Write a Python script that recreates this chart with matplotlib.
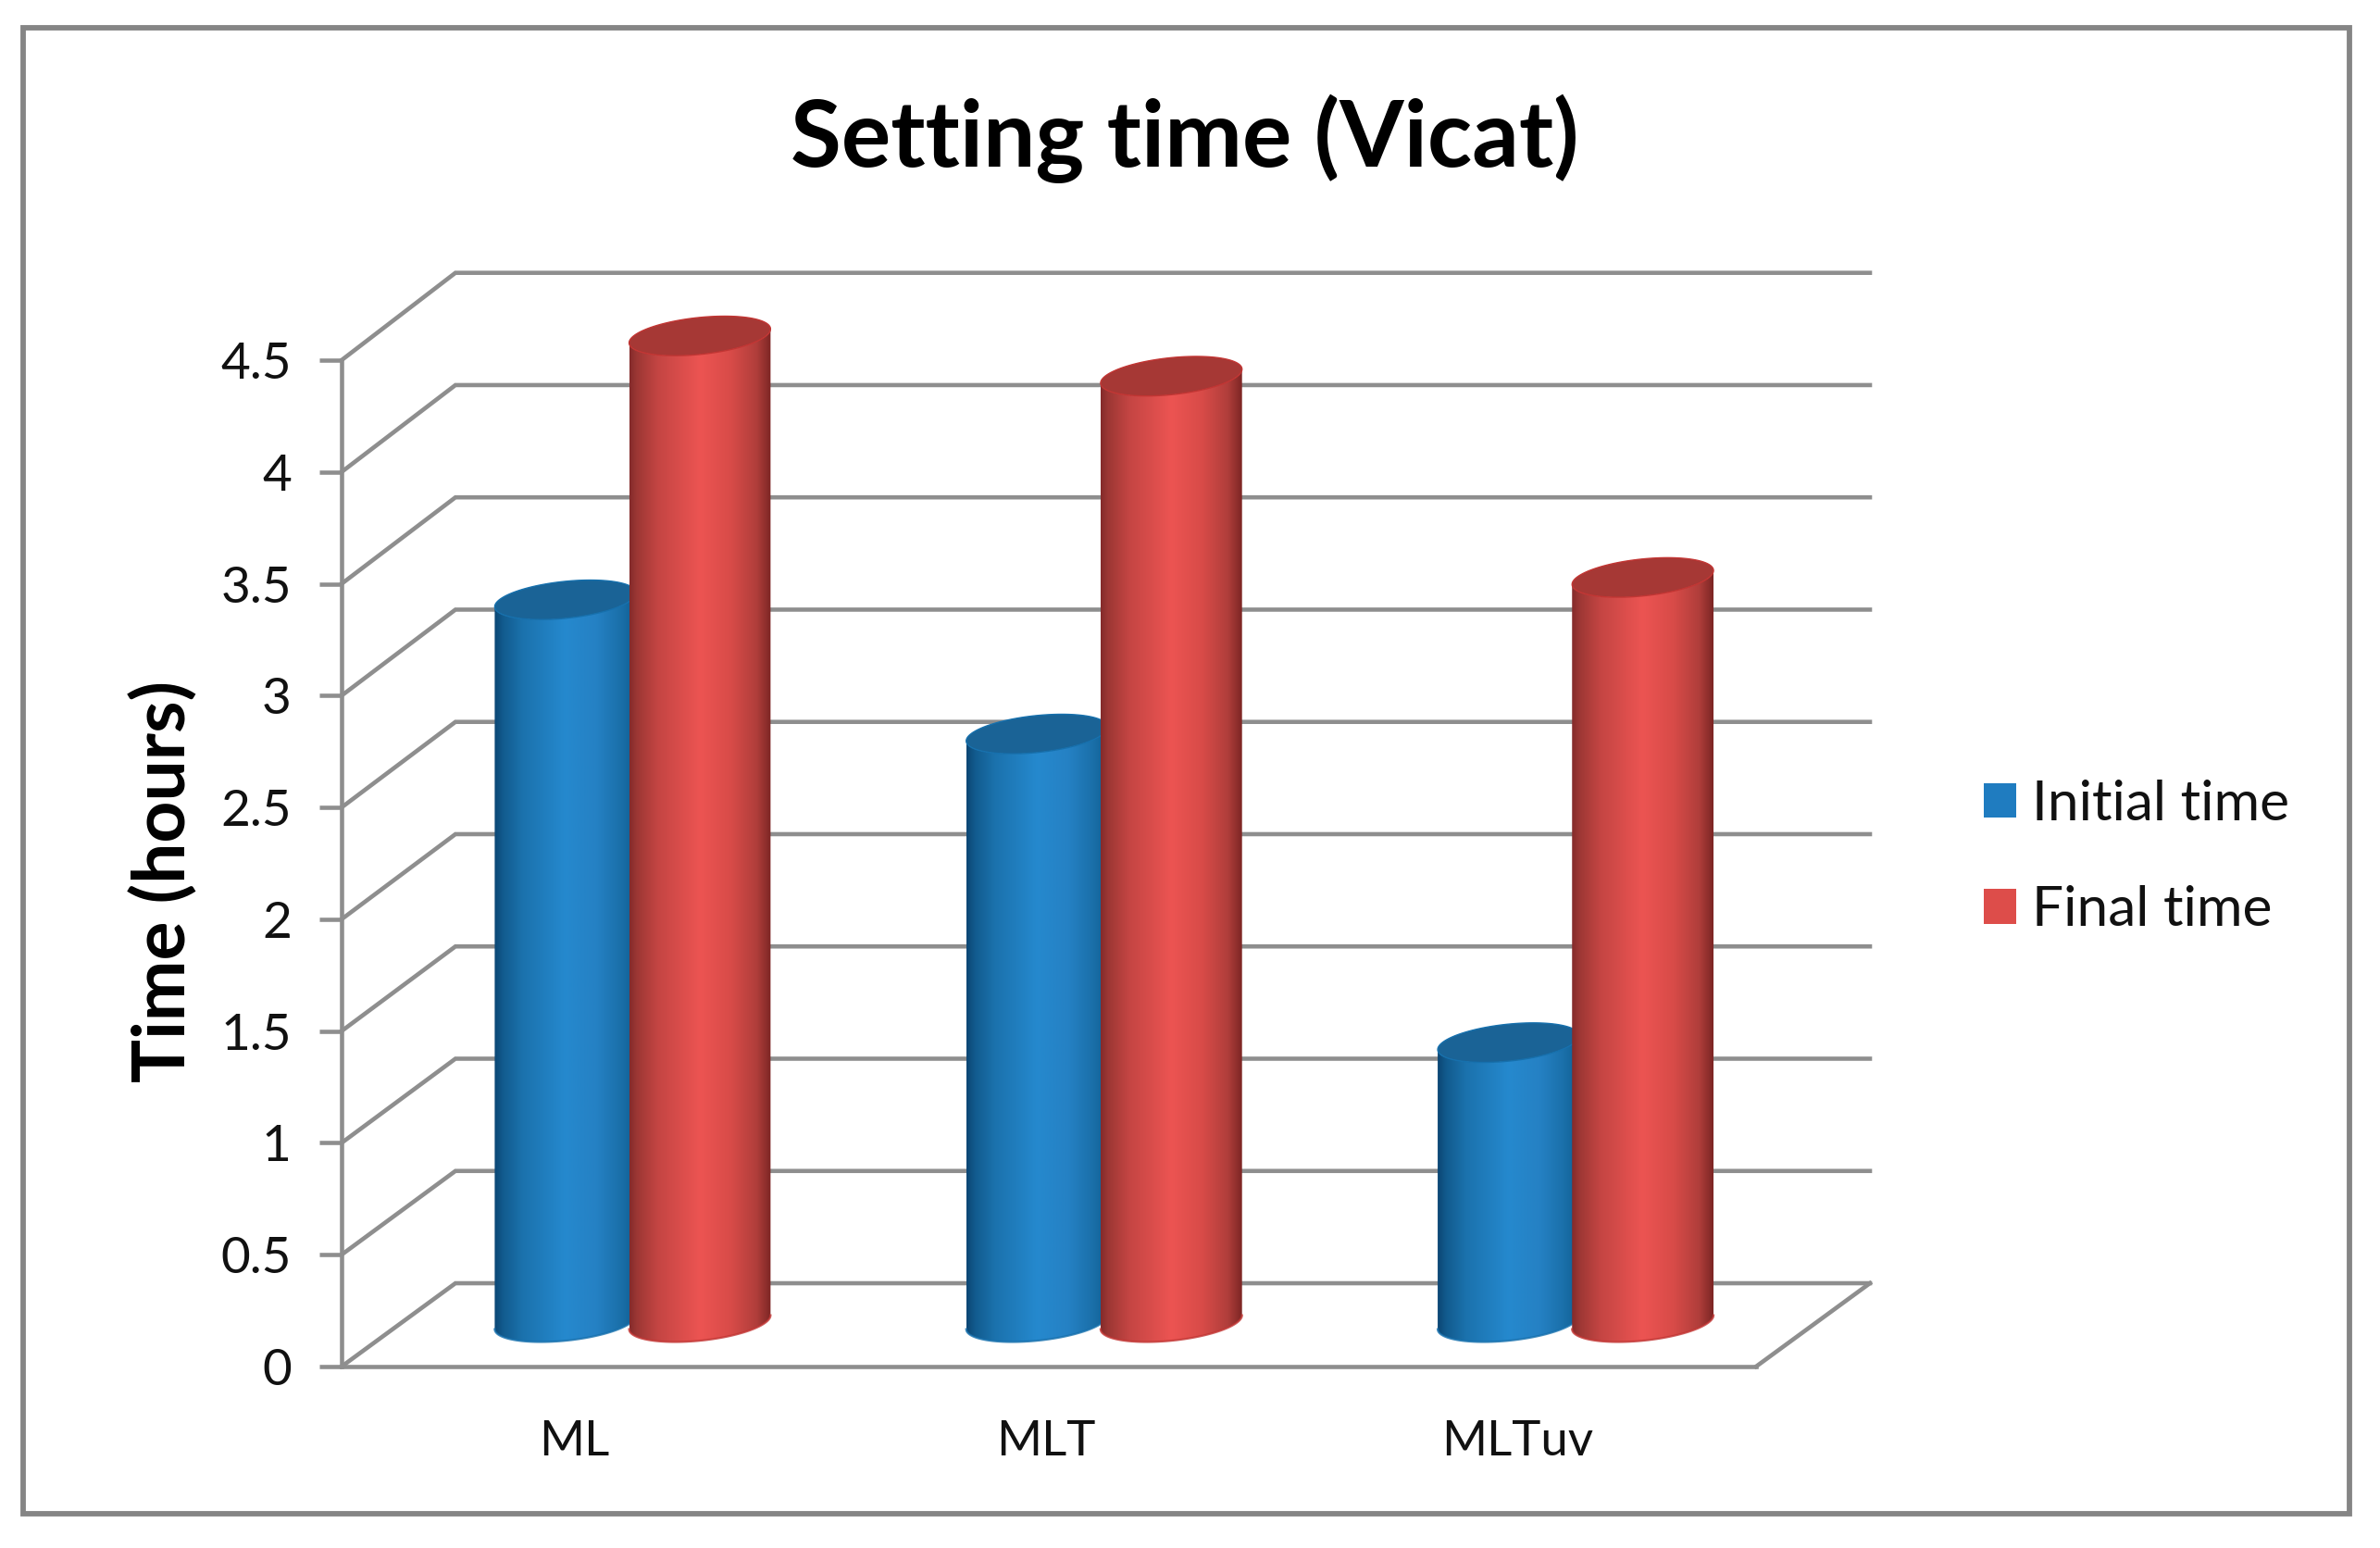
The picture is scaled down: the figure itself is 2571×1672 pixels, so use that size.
import numpy as np
import matplotlib
matplotlib.use("Agg")
import matplotlib.pyplot as plt
from matplotlib.colors import LinearSegmentedColormap
from matplotlib.patches import PathPatch, Patch, Rectangle
from matplotlib.path import Path

categories = ["ML", "MLT", "MLTuv"]
initial_time = [3.23, 2.63, 1.25]
final_time = [4.41, 4.23, 3.33]
y_ticks = [0, 0.5, 1, 1.5, 2, 2.5, 3, 3.5, 4, 4.5]
y_tick_labels = ["0", "0.5", "1", "1.5", "2", "2.5", "3", "3.5", "4", "4.5"]

W, H = 2571, 1672
plt.rcParams["font.family"] = ["Lato", "DejaVu Sans"]
fig = plt.figure(figsize=(W / 100, H / 100), dpi=100, facecolor="white")

L, R, B, T = 369, 1897, 1476, 389
ax = fig.add_axes([L / W, (H - B) / H, (R - L) / W, (B - T) / H])
ax.patch.set_alpha(0)
GRID = "#8e8e8e"
LW = 3.3

# depth of the pseudo-3D floor, in data units
DX, DY = 0.2415, 0.3725
BACK = 1.004             # back wall is drawn very slightly taller than the front
PX_X = (R - L) / 3
PX_Y = (B - T) / 4.5

for v in y_ticks:
    ax.plot([0, DX, 3 + DX], [v, DY + BACK * v, DY + BACK * v], color=GRID, lw=LW,
            solid_joinstyle="miter", clip_on=False, zorder=1)
ax.plot([3, 3 + DX], [0, DY], color=GRID, lw=LW, clip_on=False, zorder=1)

cmap_blue = LinearSegmentedColormap.from_list("b", [
    (0, "#0b4674"), (0.06, "#125b8e"), (0.2, "#1b72ad"), (0.5, "#2589ce"),
    (0.72, "#2581c4"), (0.9, "#1a6fa8"), (1, "#0f5d92")])
cmap_red = LinearSegmentedColormap.from_list("r", [
    (0, "#842b2b"), (0.05, "#9c3734"), (0.2, "#c44543"), (0.5, "#ec5452"),
    (0.72, "#d84b48"), (0.9, "#b03e3b"), (0.97, "#8c2d2b"), (1, "#7c2524")])

A = 0.150                # half width, category units
S = 7.5 / PX_Y           # tilt of the end ellipses
E = 20.0 / PX_Y          # half height of the end ellipses
BASE = DY / 2 + 0.012
ts = np.linspace(0, np.pi, 60)


def cylinder(cx, value, cmap, top_color, rim_color, z):
    base = BASE
    top = BASE + value
    # lower half of an end ellipse, running from the right point to the left point
    ax_x = cx + A * np.cos(ts)
    low = -E * np.sin(ts) + S * np.cos(ts)
    xs = np.r_[ax_x[::-1], ax_x]
    ys = np.r_[top + low[::-1], base + low]
    body = Path(np.c_[np.r_[xs, xs[0]], np.r_[ys, ys[0]]], closed=True)
    im = ax.imshow(np.linspace(0, 1, 256)[None, :], cmap=cmap, aspect="auto",
                   extent=[cx - A, cx + A, base - E - S, top + E + S],
                   zorder=z, interpolation="bilinear")
    clip = PathPatch(body, transform=ax.transData, fc="none", ec="none")
    ax.add_patch(clip)
    im.set_clip_path(clip)
    im.set_clip_box(fig.bbox)
    ax.plot(ax_x, base + low, color=rim_color, lw=1.6, zorder=z + 0.1,
            clip_on=False, alpha=0.8)
    tt = np.linspace(0, 2 * np.pi, 120)
    ax.fill(cx + A * np.cos(tt), top + E * np.sin(tt) + S * np.cos(tt),
            fc=top_color, ec=rim_color, lw=1.0, zorder=z + 0.2, clip_on=False)


GROUP = DX / 2
OFF_B, OFF_R = -0.146, 0.139
for i in range(len(categories)):
    c = i + 0.5 + GROUP
    cylinder(c + OFF_B, initial_time[i], cmap_blue, "#1a6396", "#1670ad", 3)
    cylinder(c + OFF_R, final_time[i], cmap_red, "#a63835", "#c23533", 4)

ax.set_xlim(0, 3)
ax.set_ylim(0, 4.5)
for s in ("top", "right"):
    ax.spines[s].set_visible(False)
for s in ("left", "bottom"):
    ax.spines[s].set_color(GRID)
    ax.spines[s].set_linewidth(LW)
    ax.spines[s].set_zorder(2)

ax.set_xticks([i + 0.494 for i in range(len(categories))], categories)
ax.set_yticks(y_ticks, y_tick_labels)
ax.tick_params(axis="x", length=0, pad=42, labelsize=38, labelcolor="#111111")
ax.tick_params(axis="y", length=17, width=LW, color=GRID, pad=22,
               labelsize=39.5, labelcolor="#111111")

fig.text(1280 / W, 1 - 150 / H, "Setting time (Vicat)", ha="center", va="center",
         fontsize=72, fontweight="bold", color="black")
fig.text(177 / W, 1 - 952 / H, "Time (hours)", ha="center", va="center",
         rotation=90, fontsize=56.5, fontweight="bold", color="black")

handles = [Patch(fc="#1f7cc0", ec="none", label="Initial time"),
           Patch(fc="#dd4d4a", ec="none", label="Final time")]
ax.legend(handles=handles, loc="center left",
          bbox_to_anchor=(2143 / W, 1 - 926 / H), bbox_transform=fig.transFigure,
          frameon=False, fontsize=43.5, handlelength=0.575, handleheight=0.575,
          handletextpad=0.28, labelspacing=1.0, borderpad=0, borderaxespad=0,
          labelcolor="#111111")

fig.add_artist(Rectangle((25 / W, 1 - 1635 / H), 2513 / W, 1605 / H, fc="none",
                         ec="#858585", lw=4.2, transform=fig.transFigure))
fig.savefig("out.png", dpi=100, facecolor="white")
